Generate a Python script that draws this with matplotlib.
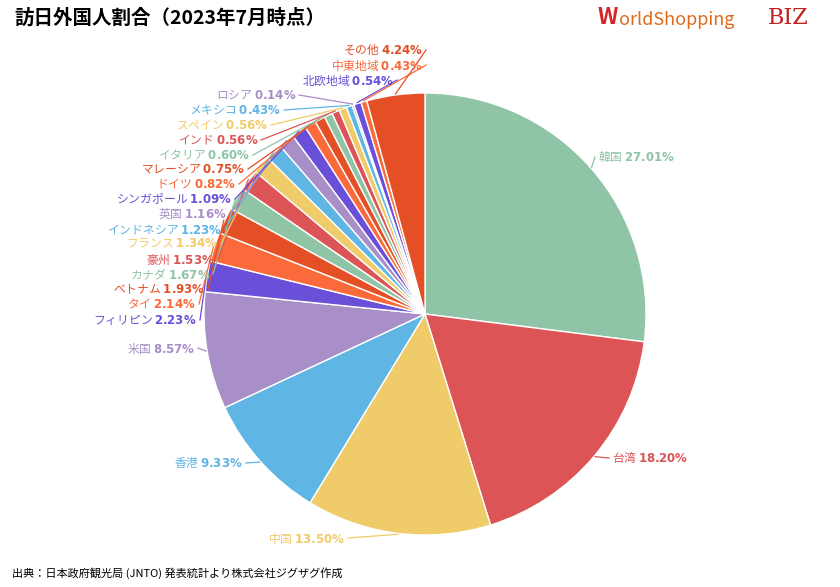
import numpy as np
import matplotlib
matplotlib.use("Agg")
import matplotlib.pyplot as plt

plt.rcParams['font.family'] = ['Noto Sans CJK JP', 'DejaVu Sans']

countries = ["韓国", "台湾", "中国", "香港", "米国", "フィリピン", "タイ", "ベトナム", "カナダ", "豪州",
             "フランス", "インドネシア", "英国", "シンガポール", "ドイツ", "マレーシア", "イタリア", "インド",
             "スペイン", "メキシコ", "ロシア", "北欧地域", "中東地域", "その他"]
shares = [27.01, 18.20, 13.50, 9.33, 8.57, 2.23, 2.14, 1.93, 1.67, 1.53, 1.34, 1.23, 1.16, 1.09,
          0.82, 0.75, 0.60, 0.56, 0.56, 0.43, 0.14, 0.54, 0.43, 4.24]
palette = ["#8fc4a6", "#dc5456", "#f0cb69", "#5fb5e3", "#a98fc8", "#6a4fd8", "#fb6a3a", "#e44f26"]
colors = [palette[i % 8] for i in range(len(shares))]

W, H = 840, 587
fig = plt.figure(figsize=(W/100, H/100), dpi=100)
ax = fig.add_axes([0, 0, 1, 1])
cx, cy, R = 425, 314, 221
ax.pie(shares, colors=colors, center=(cx, cy), radius=R, startangle=-90, counterclock=True,
       wedgeprops=dict(edgecolor='white', linewidth=1), frame=True)
ax.set_xlim(0, W); ax.set_ylim(H, 0); ax.axis('off')

tot = sum(shares)
cum = np.cumsum([0] + shares)
mids = [-90 + 360 * (cum[i] + shares[i] / 2) / tot for i in range(len(shares))]

big = {0: (598, 157, 'left'), 1: (612, 458, 'left'), 2: (345, 538, 'right'),
       3: (243, 463, 'right'), 4: (195, 348, 'right')}
small_y = [320, 304, 289, 274, 259, 244, 229, 214, 199, 184, 169, 155, 140, 125, 110, 95, 80, 65, 50]
small_x = [197, 196, 205, 210, 215, 218, 222, 227, 232, 236, 245, 250, 258, 268, 281, 296, 394, 423, 423]

for i, (name, v) in enumerate(zip(countries, shares)):
    a = np.deg2rad(mids[i])
    ex, ey = cx + (R + 1) * np.cos(a), cy + (R + 1) * np.sin(a)
    if i in big:
        x, y, ha = big[i]
    else:
        k = i - 5
        x, y, ha = small_x[k], small_y[k], 'right'
    ax.text(x, y, f"{name} $\\bf{{{v:.2f}\\%}}$", color=colors[i], fontsize=8.5, ha=ha, va='center')
    lx = x + (3 if ha == 'right' else -3)
    ax.plot([lx, ex], [y, ey], color=colors[i], lw=0.9)

fig.text(14/W, 1 - 18/H, "訪日外国人割合（2023年7月時点）", fontsize=14, fontweight='bold', va='center')
fig.text(12/W, 1 - 573/H, "出典：日本政府観光局 (JNTO) 発表統計より株式会社ジグザグ作成", fontsize=8, va='center')
fig.text(598/W, 1 - 18/H, "W", fontsize=16, fontweight='bold', color='#d6262b', va='center')
fig.text(619/W, 1 - 20/H, "orldShopping", fontsize=13, color='#e06a1b', va='center')
fig.text(768/W, 1 - 18/H, "BIZ", fontsize=16, color='#c0201f', va='center', family='DejaVu Serif')
fig.savefig("out.png", dpi=100)
